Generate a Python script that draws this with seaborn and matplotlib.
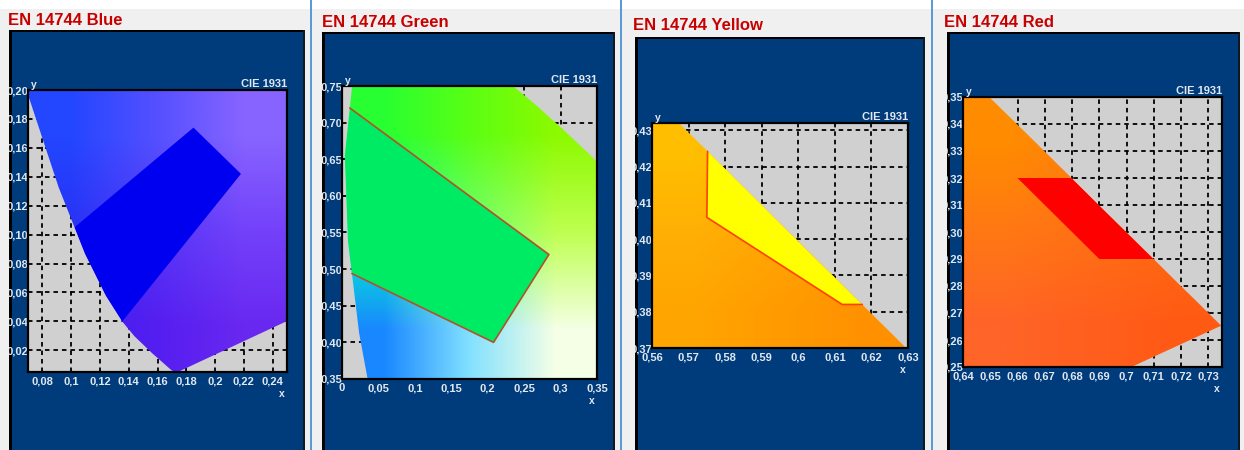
import matplotlib
matplotlib.use("Agg")
import matplotlib.pyplot as plt
from matplotlib.patches import Polygon, Rectangle
import numpy as np
import seaborn as sns

sns.set_theme(style="white")
plt.rcParams["font.family"] = ["Liberation Sans", "DejaVu Sans"]

# CIE 1931 spectral locus (380 - 700 nm), closed by the purple line
locus_x = [0.1741, 0.1733, 0.1714, 0.1689, 0.1644, 0.1566, 0.1440, 0.1355, 0.1241, 0.1096,
           0.0913, 0.0687, 0.0454, 0.0235, 0.0082, 0.0039, 0.0139, 0.0389, 0.0743, 0.1142,
           0.1547, 0.1929, 0.2296, 0.2658, 0.3016, 0.3373, 0.3731, 0.4087, 0.4441, 0.4788,
           0.5125, 0.5448, 0.5752, 0.6029, 0.6270, 0.6482, 0.6658, 0.6915, 0.7079, 0.7190,
           0.7260, 0.7300, 0.7334, 0.7347]
locus_y = [0.0050, 0.0048, 0.0051, 0.0069, 0.0109, 0.0177, 0.0297, 0.0399, 0.0578, 0.0868,
           0.1327, 0.2007, 0.2950, 0.4127, 0.5384, 0.6548, 0.7502, 0.8120, 0.8338, 0.8262,
           0.8059, 0.7816, 0.7543, 0.7243, 0.6923, 0.6589, 0.6245, 0.5896, 0.5547, 0.5202,
           0.4866, 0.4544, 0.4242, 0.3965, 0.3725, 0.3514, 0.3340, 0.3083, 0.2920, 0.2809,
           0.2740, 0.2700, 0.2666, 0.2653]

titles = ["EN 14744 Blue", "EN 14744 Green", "EN 14744 Yellow", "EN 14744 Red"]

# blue
blue_xlim = (0.07, 0.25)
blue_ylim = (0.005, 0.20)
blue_xticks = [0.08, 0.10, 0.12, 0.14, 0.16, 0.18, 0.20, 0.22, 0.24]
blue_xlabels = ["0,08", "0,1", "0,12", "0,14", "0,16", "0,18", "0,2", "0,22", "0,24"]
blue_yticks = [0.02, 0.04, 0.06, 0.08, 0.10, 0.12, 0.14, 0.16, 0.18, 0.20]
blue_ylabels = ["0,02", "0,04", "0,06", "0,08", "0,10", "0,12", "0,14", "0,16", "0,18", "0,20"]
blue_region_x = [0.185, 0.218, 0.1355, 0.1241, 0.1096, 0.1023]
blue_region_y = [0.174, 0.142, 0.0399, 0.0578, 0.0868, 0.105]

# green
green_xlim = (0.0, 0.35)
green_ylim = (0.35, 0.75)
green_xticks = [0.0, 0.05, 0.10, 0.15, 0.20, 0.25, 0.30, 0.35]
green_xlabels = ["0", "0,05", "0,1", "0,15", "0,2", "0,25", "0,3", "0,35"]
green_yticks = [0.35, 0.40, 0.45, 0.50, 0.55, 0.60, 0.65, 0.70, 0.75]
green_ylabels = ["0,35", "0,40", "0,45", "0,50", "0,55", "0,60", "0,65", "0,70", "0,75"]
green_region_x = [0.0107, 0.284, 0.208, 0.0136, 0.0082, 0.0039]
green_region_y = [0.720, 0.520, 0.400, 0.494, 0.5384, 0.6548]

# yellow
yellow_xlim = (0.56, 0.63)
yellow_ylim = (0.37, 0.432)
yellow_xticks = [0.56, 0.57, 0.58, 0.59, 0.60, 0.61, 0.62, 0.63]
yellow_xlabels = ["0,56", "0,57", "0,58", "0,59", "0,6", "0,61", "0,62", "0,63"]
yellow_yticks = [0.37, 0.38, 0.39, 0.40, 0.41, 0.42, 0.43]
yellow_ylabels = ["0,37", "0,38", "0,39", "0,40", "0,41", "0,42", "0,43"]
yellow_region_x = [0.5752, 0.575, 0.612, 0.6175, 0.6029]
yellow_region_y = [0.4242, 0.406, 0.382, 0.382, 0.3965]

# red
red_xlim = (0.64, 0.735)
red_ylim = (0.25, 0.35)
red_xticks = [0.64, 0.65, 0.66, 0.67, 0.68, 0.69, 0.70, 0.71, 0.72, 0.73]
red_xlabels = ["0,64", "0,65", "0,66", "0,67", "0,68", "0,69", "0,7", "0,71", "0,72", "0,73"]
red_yticks = [0.25, 0.26, 0.27, 0.28, 0.29, 0.30, 0.31, 0.32, 0.33, 0.34, 0.35]
red_ylabels = ["0,25", "0,26", "0,27", "0,28", "0,29", "0,30", "0,31", "0,32", "0,33", "0,34", "0,35"]
red_region_x = [0.660, 0.6798, 0.6915, 0.7079, 0.7099, 0.690]
red_region_y = [0.320, 0.320, 0.3083, 0.2920, 0.2900, 0.290]

# approximate diagram colours seen behind each panel (rows top -> bottom)
blue_shade = [[(35, 70, 255), (85, 80, 255), (135, 100, 255)],
              [(40, 50, 245), (85, 55, 248), (115, 65, 250)],
              [(60, 30, 240), (85, 30, 240), (105, 40, 240)]]
green_shade = [[(40, 255, 50), (90, 255, 20), (140, 250, 0)],
               [(0, 250, 200), (110, 255, 120), (190, 255, 80)],
               [(25, 135, 255), (130, 225, 255), (245, 255, 230)]]
yellow_shade = [[(255, 190, 0), (255, 178, 10), (255, 168, 10)],
                [(255, 175, 5), (255, 165, 5), (255, 158, 5)],
                [(255, 165, 0), (255, 155, 0), (255, 145, 0)]]
red_shade = [[(255, 140, 0), (255, 130, 10), (255, 120, 10)],
             [(255, 120, 20), (255, 112, 20), (255, 105, 15)],
             [(255, 100, 40), (255, 95, 30), (255, 90, 20)]]

panels = [
    dict(xlim=blue_xlim, ylim=blue_ylim, xt=blue_xticks, xl=blue_xlabels, yt=blue_yticks, yl=blue_ylabels,
         rx=blue_region_x, ry=blue_region_y, fill="#0000f0", edge=None, nedge=0, shade=blue_shade),
    dict(xlim=green_xlim, ylim=green_ylim, xt=green_xticks, xl=green_xlabels, yt=green_yticks, yl=green_ylabels,
         rx=green_region_x, ry=green_region_y, fill="#00eb64", edge="#b4502a", nedge=4, shade=green_shade),
    dict(xlim=yellow_xlim, ylim=yellow_ylim, xt=yellow_xticks, xl=yellow_xlabels, yt=yellow_yticks, yl=yellow_ylabels,
         rx=yellow_region_x, ry=yellow_region_y, fill="#ffff00", edge="#ff4000", nedge=4, shade=yellow_shade),
    dict(xlim=red_xlim, ylim=red_ylim, xt=red_xticks, xl=red_xlabels, yt=red_yticks, yl=red_ylabels,
         rx=red_region_x, ry=red_region_y, fill="#ff0000", edge=None, nedge=0, shade=red_shade),
]

# pixel layout: title (x, baseline), navy box (l, t, r), plot box (l, t, r, b), left gap start
layout = [
    dict(title=(8, 25), navy=(9, 30, 305), plot=(28, 90, 287, 372), gap=0),
    dict(title=(322, 27), navy=(322, 32, 615), plot=(342, 86, 597, 379), gap=311),
    dict(title=(633, 30), navy=(635, 37, 925), plot=(652, 123, 908, 348), gap=621),
    dict(title=(944, 27), navy=(947, 32, 1240), plot=(963, 97, 1222, 367), gap=932),
]
separators = [310, 620, 931]

W, H = 1244, 450
NAVY = "#003c7c"
LABEL = "#e2e8f0"


def frac(l, t, r, b):
    return [l / W, 1 - b / H, (r - l) / W, (b - t) / H]


def prect(l, t, r, b, color, z):
    fig.add_artist(Rectangle((l / W, 1 - b / H), (r - l) / W, (b - t) / H,
                             transform=fig.transFigure, color=color, lw=0, zorder=z))


fig = plt.figure(figsize=(W / 100, H / 100), dpi=100, facecolor="#f0f0f0")
prect(0, 0, W, 9, "white", 10)
for s in separators:
    prect(s, 0, s + 1.5, H, "#5b9bd5", 12)

for i, (p, g) in enumerate(zip(panels, layout)):
    nl, nt, nr = g["navy"]
    bg = fig.add_axes(frac(nl, nt, nr, H + 5), zorder=-1)
    bg.set_facecolor(NAVY)
    bg.set_xticks([])
    bg.set_yticks([])
    for sp in bg.spines.values():
        sp.set_visible(False)

    # hide label overflow left of the navy box; the dark frame sits under the labels
    prect(g["gap"], 9, nl, H, "#f0f0f0", 10)
    prect(nl, nt, nl + 3, H, "black", 0.5)
    prect(nl, nt, nr, nt + 2, "black", 0.5)
    prect(nr - 2, nt, nr, H, "#101820", 0.5)

    tx, ty = g["title"]
    fig.text(tx / W, 1 - ty / H, titles[i], color="#c80000", fontsize=12,
             fontweight="bold", ha="left", va="baseline", zorder=12)

    ax = fig.add_axes(frac(*g["plot"]), zorder=1)
    ax.set_facecolor("#d0d0d0")
    x0, x1 = p["xlim"]
    y0, y1 = p["ylim"]

    locus = Polygon(np.column_stack([locus_x, locus_y]), closed=True, transform=ax.transData)
    im = ax.imshow(np.array(p["shade"]) / 255.0, extent=(x0, x1, y0, y1), origin="upper",
                   interpolation="bilinear", aspect="auto", zorder=1)
    im.set_clip_path(locus)

    for patch in ax.fill(p["rx"], p["ry"], color=p["fill"], lw=0, zorder=2):
        patch.set_clip_path(locus)
    if p["edge"]:
        n = p["nedge"]
        sns.lineplot(x=p["rx"][:n], y=p["ry"][:n], sort=False, estimator=None,
                     color=p["edge"], linewidth=1.2, ax=ax, zorder=3)

    ax.set_xlim(x0, x1)
    ax.set_ylim(y0, y1)
    ax.set_xticks(p["xt"])
    ax.set_xticklabels(p["xl"], fontweight="bold")
    ax.set_yticks(p["yt"])
    ax.set_yticklabels(p["yl"], fontweight="bold")
    ax.set_xlabel("")
    ax.set_ylabel("")
    ax.tick_params(length=0, labelsize=8, labelcolor=LABEL)
    ax.tick_params(axis="x", pad=3)
    ax.tick_params(axis="y", pad=0)
    ax.grid(True, color="black", linestyle=(0, (2.5, 2.2)), linewidth=1.3)
    ax.set_axisbelow(True)
    for sp in ax.spines.values():
        sp.set_visible(True)
        sp.set_color("black")
        sp.set_linewidth(1.6)

    ax.text(1.0, 1.003, "CIE 1931", transform=ax.transAxes, ha="right", va="bottom",
            fontsize=8, fontweight="bold", color=LABEL)
    ax.annotate("y", xy=(0, 1), xycoords="axes fraction", xytext=(2, 0), textcoords="offset points",
                ha="left", va="bottom", fontsize=7.5, fontweight="bold", color=LABEL)
    ax.annotate("x", xy=(1, 0), xycoords="axes fraction", xytext=(-4, -12), textcoords="offset points",
                ha="center", va="top", fontsize=7.5, fontweight="bold", color=LABEL)

fig.savefig("out.png", dpi=100, facecolor=fig.get_facecolor())
